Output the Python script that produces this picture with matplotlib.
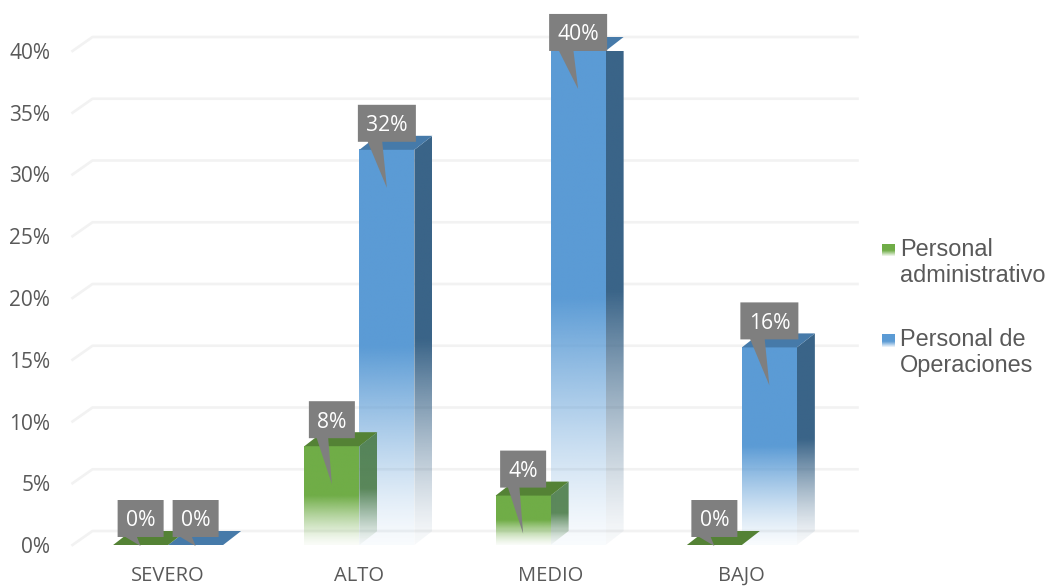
import numpy as np
import matplotlib
matplotlib.use("Agg")
import matplotlib.pyplot as plt
from matplotlib.colors import to_rgb
from matplotlib.patches import Polygon

categories = ["SEVERO", "ALTO", "MEDIO", "BAJO"]
admin = [0, 8, 4, 0]
operaciones = [0, 32, 40, 16]
y_ticks = [0, 5, 10, 15, 20, 25, 30, 35, 40]
legend_labels = ["Personal\nadministrativo", "Personal de\nOperaciones"]

W, H = 1048, 586
PX_X = 1 / 191.25  # one pixel in x data units
PX_Y = 1 / 12.35   # one pixel in y data units
DX = 18 * PX_X
DY = 14 * PX_Y
BAR_W = 55 * PX_X

GREY = "#595959"


def fade(color, low=0.04, peak=1.0):
    # solid on the top half, fading out on the bottom half
    img = np.ones((256, 1, 4))
    img[:, :, :3] = to_rgb(color)
    alpha = np.clip(np.linspace(0, 2, 256), 0, 1)
    img[:, 0, 3] = (low + (1 - low) * alpha ** 1.3) * peak
    return img


def draw_bar(ax, x, v, front, side, top, z, side_peak=1.0):
    x1 = x + BAR_W
    top_face = Polygon([(x, v), (x1, v), (x1 + DX, v + DY), (x + DX, v + DY)],
                       facecolor=top, edgecolor="none", zorder=z + 0.2, clip_on=False)
    ax.add_patch(top_face)
    if v == 0:
        return
    ax.imshow(fade(front), extent=(x, x1, 0, v), origin="lower", aspect="auto",
              interpolation="bilinear", zorder=z, clip_on=False)
    side_poly = Polygon([(x1, 0), (x1 + DX, DY), (x1 + DX, v + DY), (x1, v)],
                        transform=ax.transData)
    im2 = ax.imshow(fade(side, peak=side_peak), extent=(x1, x1 + DX, 0, v + DY), origin="lower",
                    aspect="auto", interpolation="bilinear", zorder=z + 0.1)
    im2.set_clip_path(side_poly)


def draw_label(ax, x, v):
    w = (46 if v < 10 else 58) * PX_X
    top = min(v + 45 * PX_Y, 43)
    bottom = top - 37 * PX_Y
    tip = v - (38 * PX_Y if v > 0 else 1 * PX_Y)
    pts = [(x - w / 2, top), (x + w / 2, top), (x + w / 2, bottom),
           (x - 0.08 * w, bottom), (x, tip), (x - 0.33 * w, bottom), (x - w / 2, bottom)]
    ax.add_patch(Polygon(pts, facecolor="#7f7f7f", edgecolor="none", zorder=10, clip_on=False))
    ax.text(x, (top + bottom) / 2 - 2.5 * PX_Y, f"{v}%", color="white", fontsize=15.2,
            family="Open Sans", ha="center", va="center", zorder=11)


fig = plt.figure(figsize=(W / 100, H / 100), dpi=100)
ax = fig.add_axes([72.5 / W, 41 / H, 765 / W, 494 / H])

xs = np.arange(len(categories))

# back wall grid with the little slanted bit on the left
for t in y_ticks:
    ax.plot([-0.5, -0.5 + 20 * PX_X, 3.5 + DX + 2 * PX_X], [t, t + DY, t + DY],
            color="#f2f2f2", lw=1.9, zorder=1, clip_on=False)

for i, x in enumerate(xs):
    draw_bar(ax, x, operaciones[i], "#5b9bd5", "#3a6488", "#467aa9", 3)
    draw_bar(ax, x - BAR_W, admin[i], "#70ad47", "#487a45", "#548235", 4, side_peak=0.88)
    draw_label(ax, x + BAR_W / 2, operaciones[i])
    draw_label(ax, x - BAR_W / 2, admin[i])

ax.set_xlim(-0.5, 3.5)
ax.set_ylim(0, 40)
ax.set_xticks(xs)
ax.set_xticklabels(categories)
ax.set_yticks(y_ticks)
ax.set_yticklabels([f"{t}%" for t in y_ticks])
ax.tick_params(axis="x", length=0, pad=15, labelsize=14.5, labelcolor=GREY)
ax.tick_params(axis="y", length=0, pad=16, labelsize=15, labelcolor=GREY)
for lab in ax.get_xticklabels():
    lab.set_family("Open Sans")
for lab in ax.get_yticklabels():
    lab.set_family("Open Sans")
    lab.set_va("center_baseline")
for s in ax.spines.values():
    s.set_visible(False)
ax.patch.set_alpha(0)

# legend
legend_y = [250, 340]
legend_colors = ["#70ad47", "#5b9bd5"]
for label, ly, c in zip(legend_labels, legend_y, legend_colors):
    key = fig.add_axes([882 / W, (H - ly - 6.5) / H, 13 / W, 13 / H])
    img = np.ones((32, 1, 4))
    img[:, :, :3] = to_rgb(c)
    img[:, 0, 3] = np.clip(np.linspace(0.1, 2.2, 32), 0, 1)
    key.imshow(img, origin="lower", aspect="auto", interpolation="bilinear")
    key.axis("off")
    fig.text(900 / W, (H - ly + 12) / H, label, fontsize=16.9, family="Liberation Sans",
             color=GREY, ha="left", va="top", linespacing=1.17)

fig.savefig("out.png", dpi=100)
